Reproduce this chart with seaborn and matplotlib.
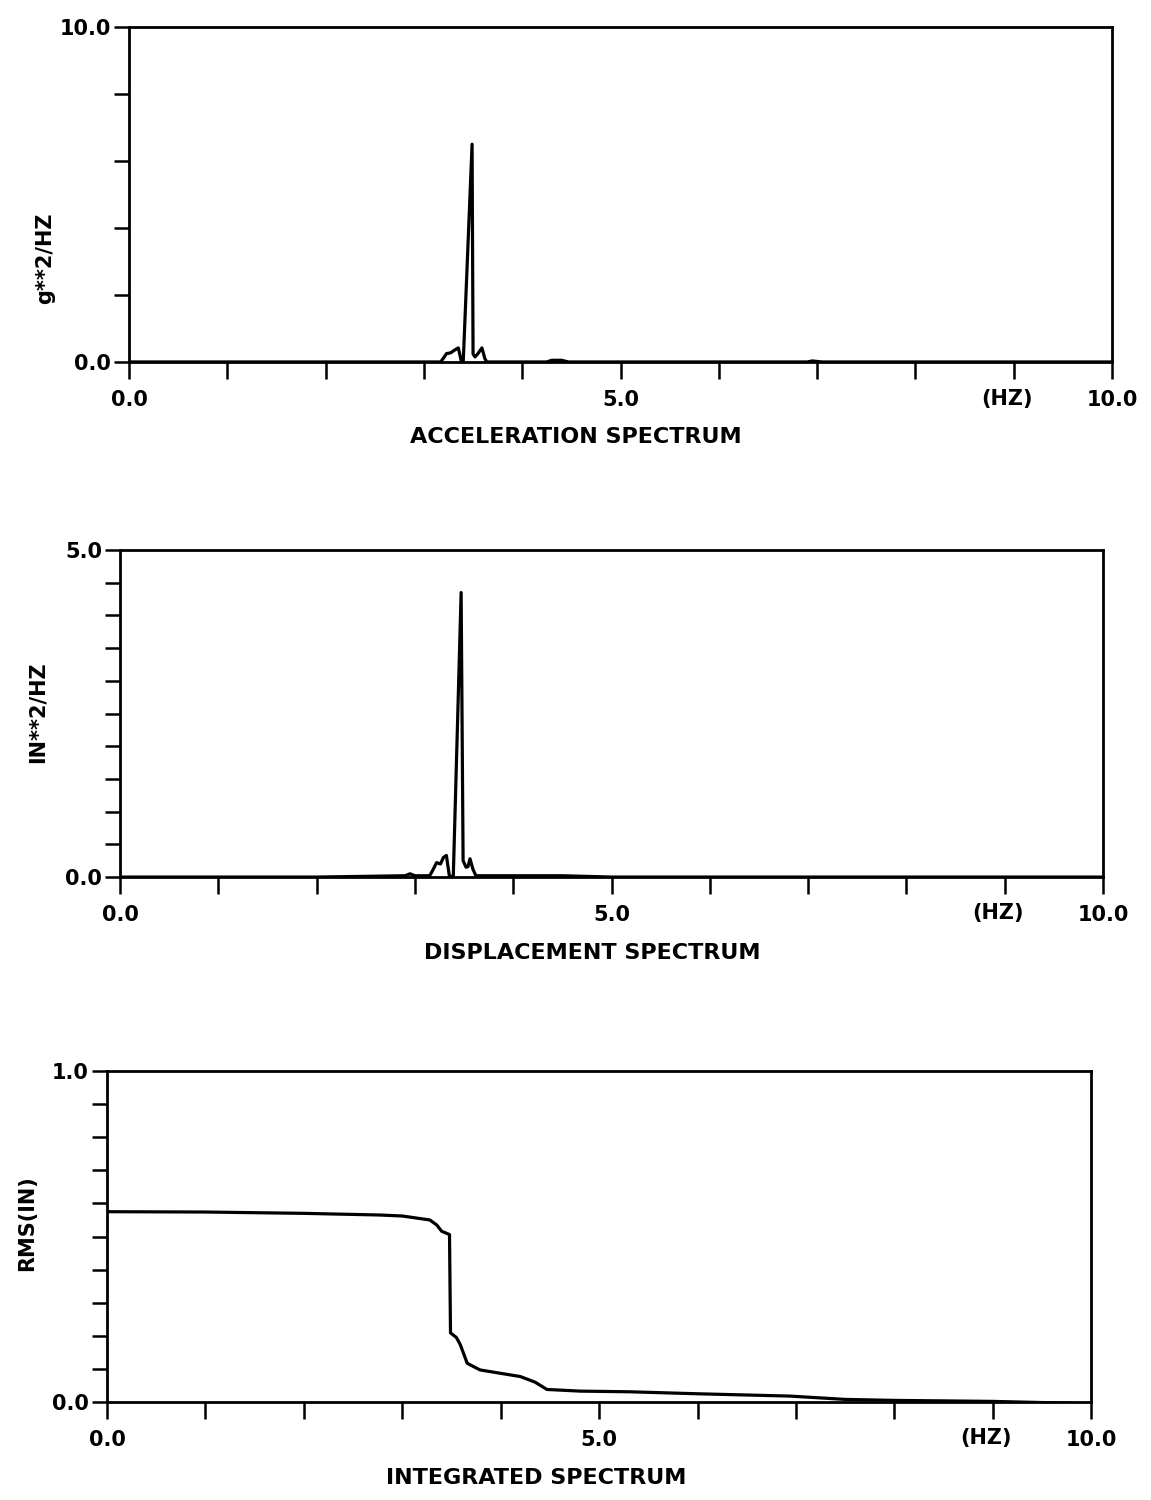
import matplotlib
matplotlib.use("Agg")
import matplotlib.pyplot as plt
import seaborn as sns

## acceleration spectrum (g**2/HZ vs HZ)
acc_freq = [0.0, 1.0, 2.0, 3.0, 3.17, 3.20, 3.23, 3.27, 3.31, 3.35, 3.38, 3.40,
            3.49, 3.50, 3.52, 3.55, 3.59, 3.62, 3.64, 3.70, 4.25, 4.30, 4.40,
            4.47, 5.0, 6.0, 6.90, 6.95, 7.05, 8.0, 9.0, 10.0]
acc_val = [0.0, 0.0, 0.0, 0.0, 0.0, 0.12, 0.25, 0.27, 0.35, 0.42, 0.03, 0.0,
           6.5, 0.24, 0.15, 0.25, 0.42, 0.10, 0.0, 0.0, 0.0, 0.05, 0.05,
           0.0, 0.0, 0.0, 0.0, 0.03, 0.0, 0.0, 0.0, 0.0]

## displacement spectrum (IN**2/HZ vs HZ)
disp_freq = [0.0, 1.0, 2.0, 2.90, 2.95, 3.00, 3.15, 3.18, 3.22, 3.26, 3.29, 3.32,
             3.35, 3.39, 3.47, 3.49, 3.52, 3.54, 3.56, 3.59, 3.62, 4.0, 4.5,
             5.0, 6.0, 7.0, 8.0, 9.0, 10.0]
disp_val = [0.0, 0.0, 0.0, 0.02, 0.05, 0.02, 0.02, 0.10, 0.22, 0.20, 0.30, 0.33,
            0.02, 0.0, 4.35, 0.25, 0.15, 0.16, 0.28, 0.12, 0.02, 0.02, 0.02,
            0.0, 0.0, 0.0, 0.0, 0.0, 0.0]

## integrated spectrum RMS(IN) vs HZ
int_freq = [0.0, 1.0, 2.0, 2.77, 3.0, 3.28, 3.35, 3.40, 3.48, 3.49, 3.55, 3.59,
            3.66, 3.79, 4.20, 4.35, 4.47, 4.81, 5.31, 6.0, 6.94, 7.5, 8.0, 9.0,
            10.0]
int_val = [0.575, 0.574, 0.570, 0.565, 0.562, 0.550, 0.535, 0.516, 0.506, 0.209,
           0.195, 0.173, 0.117, 0.097, 0.077, 0.060, 0.038, 0.033, 0.031, 0.025,
           0.018, 0.008, 0.005, 0.002, -0.005]

x_ticks = list(range(0, 11))
x_ticklabels = ["0.0", "", "", "", "", "5.0", "", "", "", "", "10.0"]

sns.set_style("ticks")
plt.rcParams["font.family"] = ["DejaVu Sans"]
plt.rcParams["font.weight"] = "bold"
plt.rcParams["text.color"] = "black"
plt.rcParams["xtick.color"] = "black"
plt.rcParams["ytick.color"] = "black"
plt.rcParams["xtick.labelcolor"] = "black"
plt.rcParams["ytick.labelcolor"] = "black"

fig = plt.figure(figsize=(11.51, 15), dpi=100)

panels = [
    # rect, x, y, ymax, ystep, ylabel, ylabel pos, title, title pos
    ([0.1121, 0.7587, 0.854, 0.2233], acc_freq, acc_val, 10.0, 2.0,
     "g**2/HZ", (-0.085, 0.31), "ACCELERATION SPECTRUM", (0.455, -0.224)),
    ([0.1043, 0.4153, 0.854, 0.218], disp_freq, disp_val, 5.0, 0.5,
     "IN**2/HZ", (-0.084, 0.505), "DISPLACEMENT SPECTRUM", (0.48, -0.232)),
    ([0.0930, 0.0653, 0.855, 0.2207], int_freq, int_val, 1.0, 0.1,
     "RMS(IN)", (-0.081, 0.54), "INTEGRATED SPECTRUM", (0.436, -0.228)),
]

fs = 15
for rect, xs, ys, ymax, ystep, ylab, ylab_pos, title, title_pos in panels:
    ax = fig.add_axes(rect)
    sns.lineplot(x=xs, y=ys, ax=ax, color="black", linewidth=2.3,
                 sort=False, estimator=None)
    ax.set_xlim(0, 10)
    ax.set_ylim(0, ymax)

    nsteps = int(round(ymax / ystep))
    yt = [i * ystep for i in range(nsteps + 1)]
    ylabels = [""] * len(yt)
    ylabels[0] = "0.0"
    ylabels[-1] = f"{ymax:.1f}"
    ax.set_yticks(yt)
    ax.set_yticklabels(ylabels)
    ax.set_xticks(x_ticks)
    ax.set_xticklabels(x_ticklabels)

    ax.tick_params(axis="x", direction="out", length=12, width=1.8, pad=8,
                   labelsize=fs)
    ax.tick_params(axis="y", direction="out", length=11, width=1.8, pad=2,
                   labelsize=fs)
    for lab in ax.get_xticklabels() + ax.get_yticklabels():
        lab.set_fontweight("bold")

    for sp in ax.spines.values():
        sp.set_visible(True)
        sp.set_linewidth(2.0)
        sp.set_color("black")

    ax.set_xlabel("")
    ax.set_ylabel("")
    ax.text(ylab_pos[0], ylab_pos[1], ylab, transform=ax.transAxes,
            rotation=90, ha="center", va="center", fontsize=fs,
            fontweight="bold", color="black")
    ax.text(title_pos[0], title_pos[1], title, transform=ax.transAxes,
            ha="center", va="center", fontsize=fs + 1, fontweight="bold",
            color="black")
    ax.text(8.93, -0.11, "(HZ)", transform=ax.get_xaxis_transform(),
            ha="center", va="center", fontsize=fs, fontweight="bold",
            color="black")

fig.savefig("out.png", dpi=100, facecolor="white")
